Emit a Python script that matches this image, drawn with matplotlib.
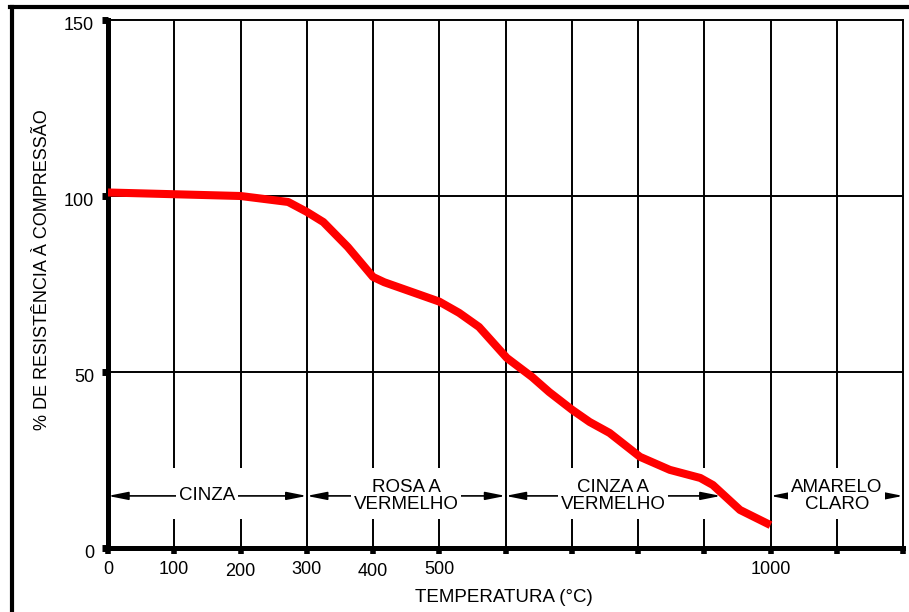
import matplotlib
matplotlib.use("Agg")
import matplotlib.pyplot as plt
from matplotlib.lines import Line2D
from matplotlib.transforms import ScaledTranslation

plt.rcParams["font.family"] = ["Liberation Sans", "DejaVu Sans"]

# Curve: temperature (°C) vs % of compressive strength
temperature = [0, 100, 200, 272, 300, 325, 362, 400, 417, 500, 530, 560,
               602, 640, 666, 701, 727, 757, 803, 848, 894, 913, 954, 1000]
strength = [101, 100.5, 100, 98.3, 95.5, 92.6, 85.5, 77, 75.5, 70, 66.8, 62.8,
            54, 48.6, 44.3, 39.2, 35.8, 32.7, 25.9, 22.2, 19.9, 17.9, 10.8, 6.5]

# Colour bands along the bottom
band_labels = ["CINZA", "ROSA A\nVERMELHO", "CINZA A\nVERMELHO", "AMARELO\nCLARO"]
band_start = [0, 300, 600, 1000]
band_end = [300, 600, 925, 1200]

xtick_values = list(range(0, 1300, 100))
xtick_labels = ["0", "100", "200", "300", "400", "500", "", "", "", "", "1000", "", ""]
ytick_values = [0, 50, 100, 150]
ytick_labels = ["0", "50", "100", "150"]

W, H = 909, 612
fig = plt.figure(figsize=(W / 100, H / 100), dpi=100)
ax = fig.add_axes([108 / W, 1 - 548 / H, (903 - 108) / W, (548 - 20) / H])

ax.set_xlim(0, 1200)
ax.set_ylim(0, 150)

# spines: thick axes on left/bottom, thin box elsewhere
ax.spines["left"].set_linewidth(3.6)
ax.spines["bottom"].set_linewidth(3.6)
ax.spines["top"].set_linewidth(1.4)
ax.spines["right"].set_linewidth(1.4)

# grid, vertical lines broken where the band labels sit
band_y, gap_lo, gap_hi = 14.8, 8.2, 22.7
for x in xtick_values[1:-1]:
    if x in band_start or x in band_end:
        ax.vlines(x, 0, 150, color="black", lw=1.4, zorder=1)
    else:
        ax.vlines(x, 0, gap_lo, color="black", lw=1.4, zorder=1)
        ax.vlines(x, gap_hi, 150, color="black", lw=1.4, zorder=1)
for y in ytick_values[1:-1]:
    ax.axhline(y, color="black", lw=1.4, zorder=1)

# band arrows and labels
for lab, x0, x1 in zip(band_labels, band_start, band_end):
    ax.annotate("", xy=(x1, band_y), xytext=(x0, band_y),
                arrowprops=dict(arrowstyle="<|-|>,head_length=1.0,head_width=0.2",
                                lw=1.2, color="black", shrinkA=0, shrinkB=0,
                                mutation_scale=12),
                zorder=2)
    ax.text((x0 + x1) / 2, band_y, lab, ha="center", va="center",
            fontsize=13.5, linespacing=0.95, zorder=3,
            bbox=dict(fc="white", ec="none", pad=2))

# the curve
ax.plot(temperature, strength, color="#ff0000", lw=5.8,
        solid_joinstyle="round", solid_capstyle="butt", zorder=5)

ax.set_xticks(xtick_values)
ax.set_xticklabels(xtick_labels)
ax.set_yticks(ytick_values)
ax.set_yticklabels(ytick_labels)
ax.tick_params(axis="x", direction="out", length=4, width=4, labelsize=13, pad=5)
ax.tick_params(axis="y", direction="out", length=4, width=5, labelsize=13, pad=6)

# small hand-drawn jitter of the x tick labels in the original
x_jitter = [0, 1, 3, 0, 3, 1, 0, 0, 0, 0, 0, 0, 0]
for lab, dy in zip(ax.get_xticklabels(), x_jitter):
    lab.set_transform(lab.get_transform() + ScaledTranslation(0, -dy / 100, fig.dpi_scale_trans))
for lab in ax.get_yticklabels():
    lab.set_transform(lab.get_transform() + ScaledTranslation(0, -4 / 100, fig.dpi_scale_trans))

fig.text(504 / W, 1 - 598 / H, "TEMPERATURA (°C)", ha="center", va="center", fontsize=13.5)
fig.text(43 / W, 1 - 270 / H, "% DE RESISTÊNCIA À COMPRESSÃO", ha="center", va="center",
         rotation=90, fontsize=13)

# outer frame (cropped on the right and bottom)
fig.add_artist(Line2D([10 / W, 1], [1 - 6.5 / H] * 2, transform=fig.transFigure,
                      color="black", lw=3))
fig.add_artist(Line2D([11.5 / W] * 2, [0, 1 - 6.5 / H], transform=fig.transFigure,
                      color="black", lw=3))

fig.savefig("out.png", dpi=100)
